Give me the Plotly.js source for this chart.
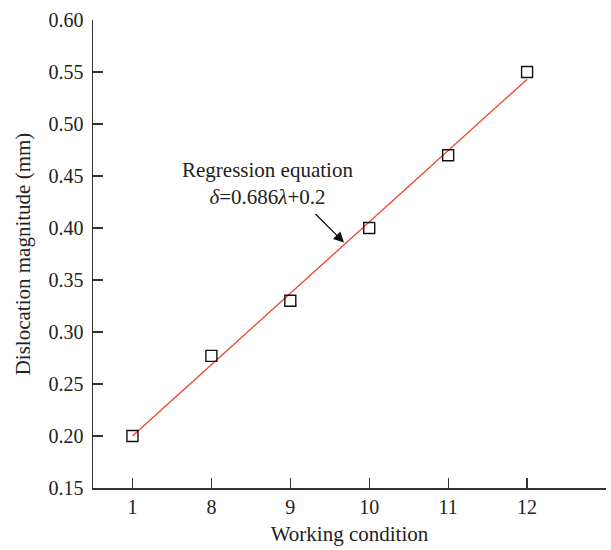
<!DOCTYPE html>
<html>
<head>
<meta charset="utf-8">
<script src="https://cdn.plot.ly/plotly-3.0.1.min.js"></script>
<style>html,body{margin:0;padding:0;background:#fff;}#chart{width:611px;height:550px;}</style>
</head>
<body>
<div id="chart"></div>
<script>
const conditions = ['1', '8', '9', '10', '11', '12'];
const dislocation = [0.200, 0.277, 0.330, 0.400, 0.470, 0.550];
const fitStart = 0.200;
const fitEnd = 0.543;

const idx = conditions.map((c, i) => i);
const family = '"Liberation Serif", "DejaVu Serif", serif';
const font = {family: family, color: '#222', size: 20};
const titleFont = {family: family, color: '#222', size: 21};

const traces = [
  {
    x: [idx[0], idx[idx.length - 1]],
    y: [fitStart, fitEnd],
    mode: 'lines',
    line: {color: '#f0442a', width: 1.3},
    hoverinfo: 'skip',
    showlegend: false
  },
  {
    x: idx,
    y: dislocation,
    mode: 'markers',
    marker: {symbol: 'square-open', size: 11, color: '#111', line: {width: 1.4, color: '#111'}},
    showlegend: false
  }
];

const layout = {
  width: 611, height: 550,
  margin: {l: 93, r: 5, t: 20, b: 62},
  paper_bgcolor: '#fff', plot_bgcolor: '#fff',
  font: font,
  xaxis: {
    range: [-0.5, 6],
    tickvals: idx.concat([6]),
    ticktext: conditions.concat(['']),
    ticks: 'inside', ticklen: 10, tickwidth: 1.3, tickcolor: '#333',
    showline: true, linecolor: '#333', linewidth: 1.5,
    showgrid: false, zeroline: false,
    title: {text: 'Working condition', font: titleFont, standoff: 10},
    tickfont: font
  },
  yaxis: {
    range: [0.15, 0.60],
    tickvals: [0.15, 0.20, 0.25, 0.30, 0.35, 0.40, 0.45, 0.50, 0.55, 0.60],
    ticktext: ['0.15', '0.20', '0.25', '0.30', '0.35', '0.40', '0.45', '0.50', '0.55', '0.60'],
    ticks: 'inside', ticklen: 10, tickwidth: 1.3, tickcolor: '#333',
    ticklabelstandoff: 4,
    showline: true, linecolor: '#333', linewidth: 1.5,
    showgrid: false, zeroline: false,
    title: {text: 'Dislocation magnitude (mm)', font: titleFont, standoff: 12},
    tickfont: font
  },
  annotations: [
    {
      x: 1.71, y: 0.443, xref: 'x', yref: 'y',
      text: 'Regression equation<br><i>δ</i>=0.686<i>λ</i>+0.2',
      showarrow: false, font: titleFont, align: 'center'
    },
    {
      x: 2.68, y: 0.386, xref: 'x', yref: 'y',
      text: '', showarrow: true,
      ax: -30, ay: -30,
      arrowhead: 2, arrowsize: 1.6, arrowwidth: 1.3, arrowcolor: '#111'
    }
  ]
};

Plotly.newPlot('chart', traces, layout, {displayModeBar: false, staticPlot: true});
</script>
</body>
</html>
